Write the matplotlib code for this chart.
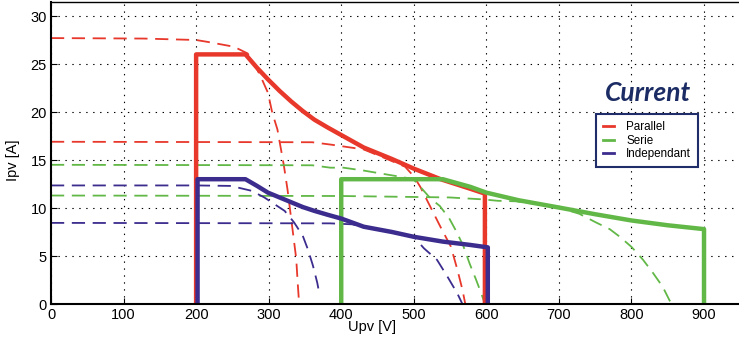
import matplotlib.pyplot as plt

# solid curves (operating trajectories)
par_v = [200, 200, 268, 284, 299, 315, 331, 347, 363, 381, 400, 431, 470, 500, 537, 578, 598, 598]
par_i = [0, 26, 26, 24.6, 23.4, 22.2, 21.1, 20.1, 19.2, 18.4, 17.6, 16.3, 15.1, 14.1, 13.0, 12.0, 11.5, 0]

ser_v = [400, 400, 540, 578, 600, 645, 700, 750, 800, 850, 900, 900]
ser_i = [0, 13, 13, 12.2, 11.6, 10.8, 10.05, 9.35, 8.7, 8.2, 7.8, 0]

ind_v = [202, 202, 268, 284, 299, 315, 331, 347, 363, 381, 400, 431, 470, 500, 540, 578, 602, 602]
ind_i = [0, 13, 13, 12.3, 11.6, 11.1, 10.6, 10.1, 9.7, 9.3, 8.9, 8.05, 7.5, 7.0, 6.5, 6.15, 5.9, 0]

# dashed curves (panel I-V characteristics)
pd1_v = [0, 128, 200, 216, 252, 271, 280, 289, 299, 305, 312, 317, 321, 326, 330, 334, 338, 340, 342]
pd1_i = [27.7, 27.65, 27.5, 27.3, 26.8, 26.1, 25.0, 23.7, 22.0, 19.9, 18.2, 16.1, 14.4, 11.9, 9.5, 7.1, 4.7, 2.2, 0]

pd2_v = [0, 360, 386, 413, 431, 460, 488, 500, 509, 523, 537, 551, 560, 567, 571]
pd2_i = [16.9, 16.85, 16.6, 16.3, 16.1, 15.2, 14.3, 13.3, 12.2, 10.1, 8.0, 6.0, 3.6, 1.5, 0]

gd1_v = [0, 360, 385, 403, 431, 458, 486, 500, 509, 523, 536, 549, 558, 568, 577, 586, 593, 598]
gd1_i = [14.5, 14.45, 14.2, 14.2, 13.9, 13.55, 13.2, 12.95, 12.2, 11.0, 10.2, 8.9, 7.65, 6.1, 4.2, 2.5, 1.1, 0]

gd2_v = [0, 400, 549, 595, 616, 640, 670, 700, 728, 751, 770, 784, 800, 816, 830, 843, 855]
gd2_i = [11.3, 11.25, 11.1, 10.9, 10.75, 10.7, 10.4, 10.05, 9.4, 8.5, 7.8, 7.0, 5.95, 4.6, 3.2, 1.8, 0]

bd1_v = [0, 200, 248, 276, 294, 308, 322, 335, 347, 354, 361, 367, 370]
bd1_i = [12.35, 12.35, 12.3, 11.8, 11.1, 10.4, 9.7, 8.5, 7.1, 5.7, 4.0, 2.2, 1.0]

bd2_v = [0, 385, 415, 431, 470, 500, 514, 532, 546, 560, 567]
bd2_i = [8.45, 8.4, 8.3, 8.0, 7.5, 7.0, 5.8, 4.6, 2.9, 1.1, 0]

labels = ["Parallel", "Serie", "Independant"]
RED = "#e8382b"
GREEN = "#62b847"
BLUE = "#3c2c8e"


def main():
    plt.rcParams["font.family"] = ["Liberation Sans", "DejaVu Sans"]
    plt.rcParams["lines.scale_dashes"] = False

    fig = plt.figure(figsize=(7.39, 3.43), dpi=100)
    ax = fig.add_axes([51 / 739, 39 / 343, 689.3 / 739, 302.4 / 343])

    dash = (0, (9.5, 5.5))
    ax.plot(pd1_v, pd1_i, c=RED, lw=1.3, ls=dash)
    ax.plot(pd2_v, pd2_i, c=RED, lw=1.3, ls=dash)
    ax.plot(gd1_v, gd1_i, c=GREEN, lw=1.3, ls=dash)
    ax.plot(gd2_v, gd2_i, c=GREEN, lw=1.3, ls=dash)
    ax.plot(bd1_v, bd1_i, c=BLUE, lw=1.3, ls=dash)
    ax.plot(bd2_v, bd2_i, c=BLUE, lw=1.3, ls=dash)

    l1, = ax.plot(par_v, par_i, c=RED, lw=3.2)
    l2, = ax.plot(ser_v, ser_i, c=GREEN, lw=3.2)
    l3, = ax.plot(ind_v, ind_i, c=BLUE, lw=3.2)

    ax.set_xlim([0., 950.])
    ax.set_ylim([0., 31.5])
    ax.set_xticks(range(0, 1000, 100))
    ax.set_yticks(range(0, 35, 5))
    ax.tick_params(direction="in", length=4, labelsize=10.5, pad=3)
    ax.grid(color="black", ls=(0, (1, 4)), lw=0.8)
    ax.spines["right"].set_visible(False)
    ax.spines["left"].set_linewidth(1.5)
    ax.spines["bottom"].set_linewidth(1.5)
    ax.spines["top"].set_linewidth(1.0)

    ax.set_xlabel("Upv [V]", size=10.5)
    ax.set_ylabel("Ipv [A]", size=10.5)
    ax.xaxis.set_label_coords(0.466, -0.053)
    ax.yaxis.set_label_coords(-0.045, 0.476)

    leg = ax.legend([l1, l2, l3], labels, fontsize=8.4, loc="upper left",
                    bbox_to_anchor=(595.7 / 739, 1 - 114.3 / 343),
                    bbox_transform=fig.transFigure, fancybox=False,
                    handlelength=1.0, handletextpad=1.0, labelspacing=0.12,
                    borderpad=0.6, borderaxespad=0, framealpha=1)
    leg.get_frame().set_edgecolor("#1f2d6b")
    leg.get_frame().set_linewidth(1.5)
    for h in leg.get_lines():
        h.set_linewidth(2)

    fig.text(648 / 739, 1 - 93 / 343, "Current", ha="center", va="center",
             fontsize=19, fontweight="bold", fontstyle="italic",
             family="Lato", color="#1b2b63")

    fig.savefig("out.png", dpi=100)
    plt.close()


if (__name__ == "__main__"):
    main()
